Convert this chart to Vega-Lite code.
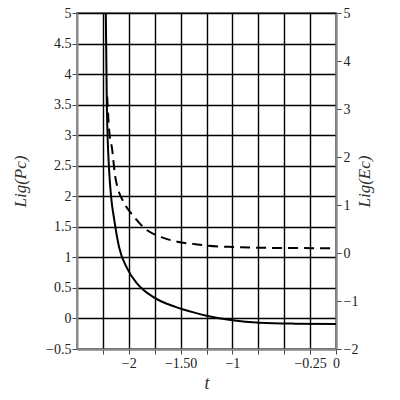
{
  "$schema": "https://vega.github.io/schema/vega-lite/v6.json",
  "width": 259,
  "height": 336,
  "autosize": {"type": "none"},
  "padding": {"left": 77, "top": 13, "right": 64, "bottom": 51},
  "background": "white",
  "config": {
    "view": {"stroke": "#8a8a8a", "strokeWidth": 2},
    "axis": {
      "labelFont": "Liberation Serif",
      "labelFontSize": 14,
      "labelColor": "#222",
      "labelOverlap": false,
      "titleFont": "Liberation Serif",
      "titleFontStyle": "italic",
      "titleFontWeight": "normal",
      "titleFontSize": 17,
      "titleColor": "#333",
      "domainColor": "#8a8a8a",
      "domainWidth": 2,
      "tickColor": "#444",
      "tickSize": 5,
      "tickCount": 40,
      "gridColor": "black",
      "gridOpacity": 1,
      "gridWidth": 1.4
    }
  },
  "datasets": {
    "pc": [
      {"t": -2.222, "value": 5.0},
      {"t": -2.212, "value": 3.48},
      {"t": -2.19, "value": 2.43},
      {"t": -2.17, "value": 1.98},
      {"t": -2.14, "value": 1.61},
      {"t": -2.093, "value": 1.16},
      {"t": -2.016, "value": 0.82},
      {"t": -1.919, "value": 0.57},
      {"t": -1.754, "value": 0.34},
      {"t": -1.55, "value": 0.19},
      {"t": -1.366, "value": 0.095},
      {"t": -1.25, "value": 0.045},
      {"t": -1.0, "value": -0.03},
      {"t": -0.736, "value": -0.07},
      {"t": -0.4, "value": -0.085},
      {"t": 0.0, "value": -0.09}
    ],
    "ec": [
      {"t": -2.209, "value": 3.26},
      {"t": -2.19, "value": 2.57},
      {"t": -2.16, "value": 2.15},
      {"t": -2.132, "value": 1.6},
      {"t": -2.11, "value": 1.38},
      {"t": -2.045, "value": 1.04},
      {"t": -1.948, "value": 0.75},
      {"t": -1.85, "value": 0.52},
      {"t": -1.686, "value": 0.33},
      {"t": -1.53, "value": 0.235},
      {"t": -1.366, "value": 0.185},
      {"t": -1.25, "value": 0.155},
      {"t": -1.0, "value": 0.125},
      {"t": -0.54, "value": 0.105},
      {"t": 0.0, "value": 0.1}
    ]
  },
  "layer": [
    {
      "data": {"name": "pc"},
      "mark": {"type": "line", "color": "black", "strokeWidth": 2, "interpolate": "monotone", "clip": true},
      "encoding": {
        "x": {
          "field": "t", "type": "quantitative",
          "scale": {"domain": [-2.5, 0], "nice": false, "zero": false},
          "axis": {
            "title": "t",
            "titleFontSize": 18,
            "values": [-2.25, -2, -1.75, -1.5, -1.25, -1, -0.75, -0.5, -0.25, 0],
            "labelExpr": "datum.value == -2 ? '−2' : datum.value == -1.5 ? '−1.50' : datum.value == -1 ? '−1' : datum.value == -0.25 ? '−0.25' : datum.value == 0 ? '0' : ''",
            "labelPadding": 2,
            "titlePadding": 4,
            "labelFlush": false
          }
        },
        "y": {
          "field": "value", "type": "quantitative",
          "scale": {"domain": [-0.5, 5], "nice": false, "zero": false},
          "axis": {
            "title": "Lig(Pc)",
            "format": "~g",
            "values": [-0.5, 0, 0.5, 1, 1.5, 2, 2.5, 3, 3.5, 4, 4.5, 5],
            "labelPadding": 1,
            "titlePadding": 16,
            "labelFlush": false
          }
        }
      }
    },
    {
      "data": {"name": "ec"},
      "mark": {"type": "line", "color": "black", "strokeWidth": 2, "strokeDash": [10, 6], "interpolate": "monotone", "clip": true},
      "encoding": {
        "x": {"field": "t", "type": "quantitative"},
        "y": {
          "field": "value", "type": "quantitative",
          "scale": {"domain": [-2, 5], "nice": false, "zero": false},
          "axis": {
            "orient": "right",
            "title": "Lig(Ec)",
            "titleAngle": -90,
            "format": "~g",
            "values": [-2, -1, 0, 1, 2, 3, 4, 5],
            "labelPadding": 2,
            "titlePadding": 16,
            "labelFlush": false
          }
        }
      }
    }
  ],
  "resolve": {"scale": {"y": "independent"}}
}
